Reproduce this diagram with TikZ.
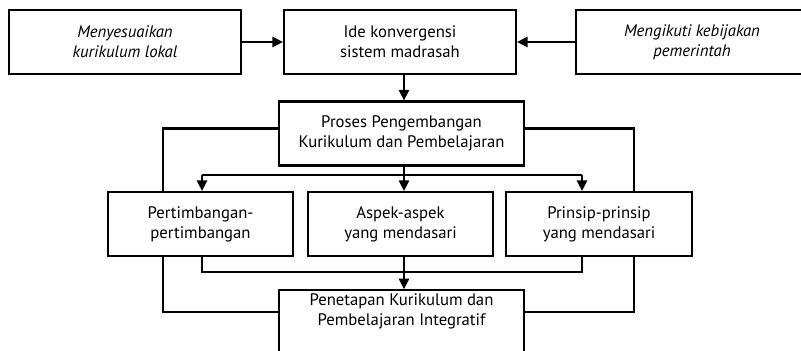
\documentclass[tikz,border=0pt]{standalone}
\usepackage{fontspec}
\setmainfont{PT Sans}
\usepackage{tikz}
\usetikzlibrary{arrows.meta}

\tikzset{
  box/.style={draw, line width=1.15pt, fill=white, minimum width=4.64cm, minimum height=1.28cm, align=center, inner sep=2pt},
  subbox/.style={box, minimum width=3.70cm},
  wide/.style={box, minimum width=4.90cm},
  arr/.style={-{Triangle[length=6pt,width=5.8pt]}},
}

\begin{document}
\begin{tikzpicture}[line width=1.15pt, font=\fontsize{9.5}{11.3}\selectfont]
\clip (0,0) rectangle (16.02,7.00);

% Top row
\node[box] (lokal) at (2.50,6.16) {\itshape Menyesuaikan\\\itshape kurikulum lokal};
\node[box] (ide) at (8.00,6.16) {Ide konvergensi\\sistem madrasah};
\node[box] (pemerintah) at (13.84,6.16) {\itshape Mengikuti kebijakan\\\itshape pemerintah};

% Process
\node[wide] (proses) at (8.03,4.33) {Proses Pengembangan\\Kurikulum dan Pembelajaran};

% Three foundations
\node[subbox] (pert) at (4.01,2.52) {Pertimbangan-\\pertimbangan};
\node[subbox] (aspek) at (8.01,2.52) {Aspek-aspek\\yang mendasari};
\node[subbox, minimum width=3.72cm] (prinsip) at (11.98,2.52) {Prinsip-prinsip\\yang mendasari};

% Result
\node[wide] (penetapan) at (8.03,0.54) {Penetapan Kurikulum dan\\Pembelajaran Integratif\\[4pt]};

% Helper points
\coordinate (axis) at (8.08,0);
\coordinate (split) at (0,3.50);
\coordinate (join) at (0,1.56);
\coordinate (dl) at (4.04,0);
\coordinate (dr) at (11.64,0);
\coordinate (ol) at (3.26,4.43);
\coordinate (or) at (12.68,4.43);
\coordinate (ob) at (0,0.76);

% Inputs
\draw[arr] (lokal) -- (ide);
\draw[arr] (pemerintah) -- (ide);
\draw[arr] (ide.south -| axis) -- (proses.north -| axis);

% Split to the three boxes
\draw (proses.south -| axis) -- (split -| axis);
\draw (split -| dl) -- (split -| dr);
\draw[arr] (split -| dl) -- (pert.north -| dl);
\draw[arr] (split -| axis) -- (aspek.north -| axis);
\draw[arr] (split -| dr) -- (prinsip.north -| dr);

% Join into the result
\draw (pert.south -| dl) |- (join -| dr) -- (prinsip.south -| dr);
\draw[arr] (aspek.south -| axis) -- (penetapan.north -| axis);

% Outer lines
\draw (proses.west |- ol) -| (pert.north -| ol);
\draw (pert.south -| ol) |- (penetapan.west |- ob);
\draw (proses.east |- or) -| (prinsip.north -| or);
\draw (prinsip.south -| or) |- (penetapan.east |- ob);
\end{tikzpicture}
\end{document}
